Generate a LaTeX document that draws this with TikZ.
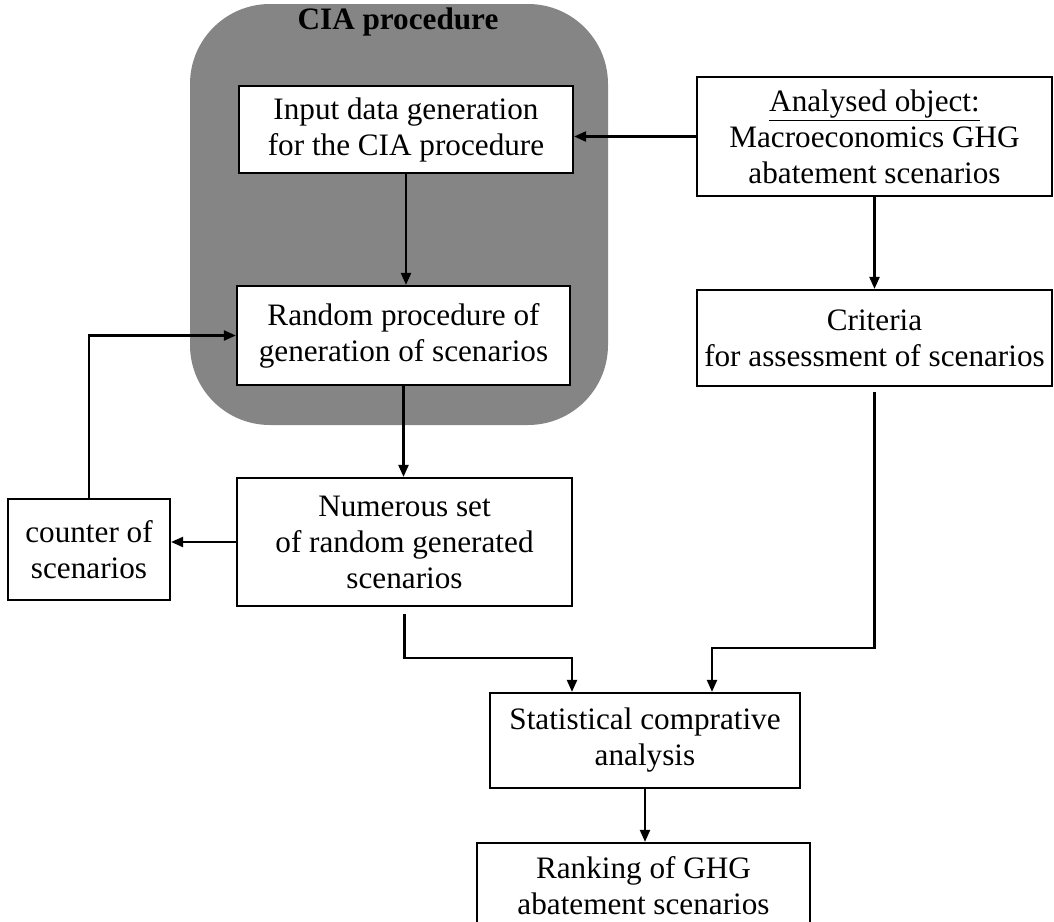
\documentclass[tikz,border=0pt]{standalone}
\usepackage{fontspec}
\setmainfont{Liberation Serif}
\usetikzlibrary{arrows.meta}

\begin{document}
\begin{tikzpicture}[x=0.5pt,y=-0.5pt,
  every node/.style={font=\fontsize{15.6pt}{18pt}\selectfont, align=center},
  box/.style={draw, line width=1.1pt, fill=white, inner sep=0pt},
  arr/.style={line width=1.1pt, -{Triangle[length=6pt,width=5pt]}},
  line/.style={line width=1.1pt}]
 \useasboundingbox (0,0) rectangle (1054,921);
 \clip (0,0) rectangle (1054,921);

 % shaded CIA region
 \fill [black!48, rounded corners=40pt] (190,4) rectangle (608,425);
 \node (cia) at (398,22) {\bfseries CIA procedure};

 \node [box, minimum width=167pt, minimum height=43.5pt] (input) at (406,129.5)
   {Input data generation\\for the CIA procedure};
 \node [box, minimum width=166.5pt, minimum height=49.5pt] (random) at (403.5,335.5)
   {Random procedure of\\generation of scenarios};
 \node [box, minimum width=177.5pt, minimum height=59.5pt] (analysed) at (874.5,136.5)
   {\underline{Analysed object:}\\Macroeconomics GHG\\abatement scenarios};
 \node [box, minimum width=177.5pt, minimum height=48pt] (criteria) at (874.5,338)
   {Criteria\\for assessment of scenarios};
 \node [box, minimum width=167.5pt, minimum height=64pt] (numerous) at (404.5,542)
   {Numerous set\\of random generated\\scenarios};
 \node [box, minimum width=81pt, minimum height=50.5pt] (counter) at (89,549.5)
   {counter of\\scenarios};
 \node [box, minimum width=155pt, minimum height=47.5pt] (stat) at (645,740.5)
   {Statistical comprative\\analysis};
 \node [box, minimum width=166.5pt, minimum height=42.5pt] (ranking) at (643.5,885.5)
   {Ranking of GHG\\abatement scenarios};

 \coordinate (s1) at (572,658);
 \coordinate (s2) at (712,648);

 \draw [arr] (analysed.west) -- (analysed.west -| input.east);
 \draw [arr] (input.south) -- (input.south |- random.north);
 \draw [arr] (analysed.south) -- (analysed.south |- criteria.north);
 \draw [arr] (random.south) -- (random.south |- numerous.north);
 \draw [arr] (numerous.west) -- (numerous.west -| counter.east);
 \draw [arr] (counter.north) |- (random.west);
 \draw [arr] ([yshift=-3.5pt]numerous.south) |- (s1) -- (s1 |- stat.north);
 \draw [arr] ([yshift=-2.5pt]criteria.south) |- (s2) -- (s2 |- stat.north);
 \draw [arr] (stat.south) -- (stat.south |- ranking.north);
\end{tikzpicture}
\end{document}
